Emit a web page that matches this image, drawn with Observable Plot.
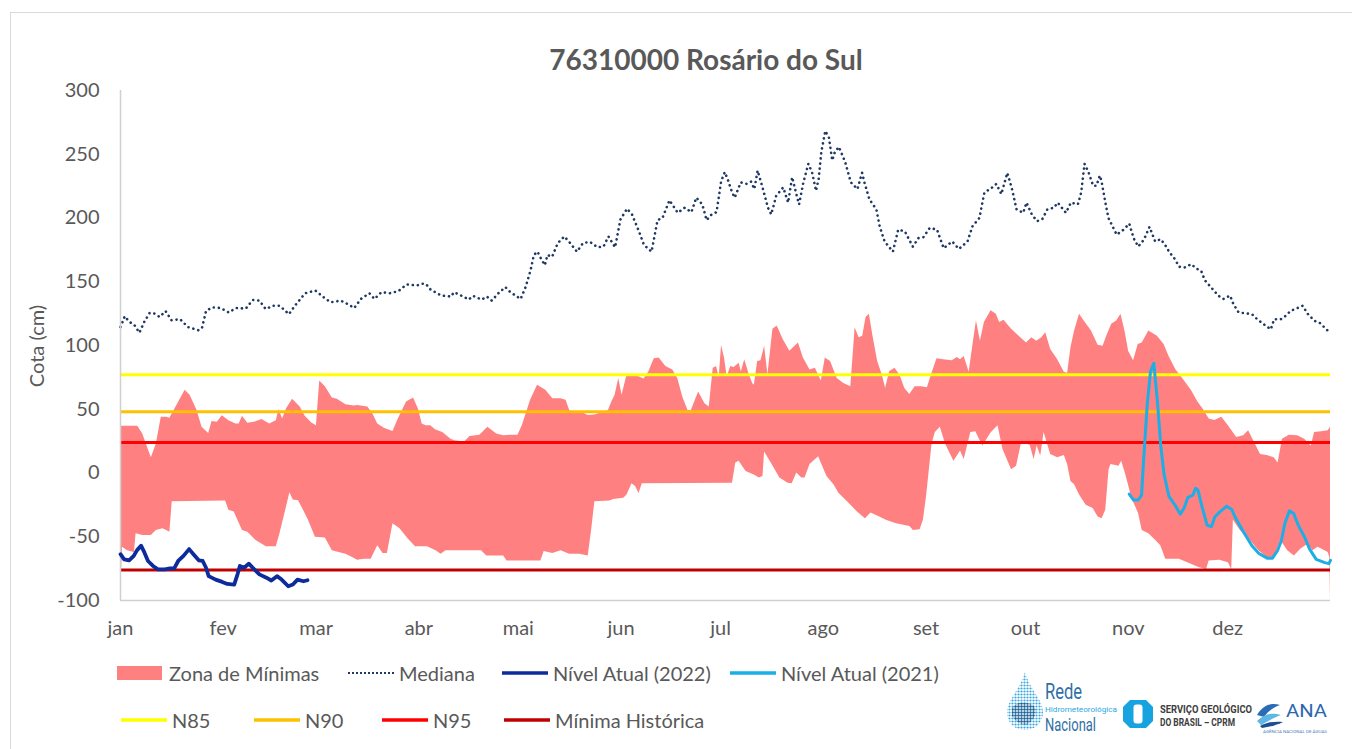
<!DOCTYPE html>
<html>
<head>
<meta charset="utf-8">
<script src="https://cdn.jsdelivr.net/npm/d3@7"></script>
<script src="https://cdn.jsdelivr.net/npm/@observablehq/plot@0.6"></script>
<style>
  html, body { margin: 0; padding: 0; background: #fff; }
  #wrap { position: relative; width: 1352px; height: 749px; overflow: hidden; background: #fff; font-family: Lato, "Open Sans", sans-serif; color: #595959; }
  #frame { position: absolute; left: 10px; top: 12px; width: 1400px; height: 800px; border: 1.5px solid #d9d9d9; box-sizing: border-box; }
  #title { position: absolute; left: 406px; width: 600px; top: 42px; text-align: center; font-weight: bold; font-size: 28px; line-height: 34px; color: #595959; }
  #ylabel { position: absolute; left: 36px; top: 346px; transform: translate(-50%, -50%) rotate(-90deg); font-size: 20px; white-space: nowrap; color: #595959; z-index: 2; }
  #chart { position: absolute; left: 0; top: 75px; z-index: 1; }
  .leg { position: absolute; display: flex; align-items: center; font-size: 20px; color: #595959; white-space: nowrap; height: 30px; }
  .leg svg { display: block; }
  #logos { position: absolute; left: 995px; top: 660px; }
</style>
</head>
<body>
<div id="wrap">
  <div id="frame"></div>
  <div id="title">76310000 Rosário do Sul</div>
  <div id="chart"></div>
  <div id="ylabel">Cota (cm)</div>
  <div id="legend"></div>
  <svg id="logos" width="357" height="89" viewBox="995 660 357 89">
    <defs>
      <pattern id="dots" x="0" y="0" width="3" height="3" patternUnits="userSpaceOnUse">
        <circle cx="1.5" cy="1.5" r="1.1" fill="#3aa6dc"></circle>
      </pattern>
      <pattern id="dots2" x="0" y="0" width="3" height="3" patternUnits="userSpaceOnUse">
        <circle cx="1.5" cy="1.5" r="1.2" fill="#1f5f8f"></circle>
      </pattern>
    </defs>
    <path d="M1025,672 C1020,690 1007,700 1007,712 C1007,723 1015,730 1025,730 C1035,730 1043,723 1043,712 C1043,700 1030,690 1025,672 Z" fill="url(#dots)"></path>
    <path d="M1012,708 C1018,700 1028,702 1034,706 C1038,712 1034,720 1028,724 C1022,726 1016,722 1012,716 Z" fill="url(#dots2)"></path>
    <text x="1045" y="699" font-family="Roboto, Lato, sans-serif" font-size="22" fill="#2f6fa5" textLength="37" lengthAdjust="spacingAndGlyphs">Rede</text>
    <text x="1045" y="711.5" font-family="Roboto, Lato, sans-serif" font-size="7.5" fill="#2aa9e0" textLength="72" lengthAdjust="spacingAndGlyphs">Hidrometeorológica</text>
    <text x="1045" y="731" font-family="Roboto, Lato, sans-serif" font-size="18" fill="#2f6fa5" textLength="51" lengthAdjust="spacingAndGlyphs">Nacional</text>
    <path d="M1130,700 L1146,700 L1153,707 L1153,721 L1146,728 L1130,728 L1123,721 L1123,707 Z" fill="#17a2e0"></path>
    <rect x="1133.5" y="704.5" width="9" height="19" rx="3" fill="#fff"></rect>
    <text x="1160" y="713" font-family="Roboto, Lato, sans-serif" font-weight="bold" font-size="10" fill="#3d3d3d" textLength="92" lengthAdjust="spacingAndGlyphs">SERVIÇO GEOLÓGICO</text>
    <text x="1160" y="726" font-family="Roboto, Lato, sans-serif" font-weight="bold" font-size="10" fill="#3d3d3d" textLength="75" lengthAdjust="spacingAndGlyphs">DO BRASIL – CPRM</text>
    <path d="M1257,715 C1263,706 1270,702 1280,705 C1274,707 1268,711 1264,717 Z" fill="#2a6db5"></path>
    <path d="M1257,721 C1264,714 1271,712 1281,715 C1275,717 1268,721 1261,725 Z" fill="#5fb7e5"></path>
    <path d="M1260,726 C1267,722 1275,721 1283,722 C1277,725 1270,727 1262,728 Z" fill="#1c4f91"></path>
    <text x="1286" y="717" font-family="Roboto, Lato, sans-serif" font-size="18" fill="#2b67ad" textLength="41" lengthAdjust="spacingAndGlyphs">ANA</text>
    <text x="1263" y="733" font-family="Roboto, Lato, sans-serif" font-size="3.5" fill="#4b7cb8" textLength="64" lengthAdjust="spacingAndGlyphs">AGÊNCIA NACIONAL DE ÁGUAS</text>
  </svg>
</div>
<script>
// ---- Data ----
const months = ["jan","fev","mar","abr","mai","jun","jul","ago","set","out","nov","dez"];
const monthStartDays = [0,31,59,90,120,151,181,212,243,273,304,334];
const yTicks = [-100,-50,0,50,100,150,200,250,300];

const medianDay = [0,1.3,2.6,4.2,5.7,7.2,8.8,10.3,11.8,13.6,15.4,18,20.3,23.6,24.6,25.8,27.6,30.2,32.7,34.8,37.8,39.9,41.9,43.8,46,48,50.8,52.6,55.7,58.8,61.3,63.4,66.4,68.5,70.5,72.5,75.1,76.6,78.7,81.2,83.8,86.3,89.4,91,92.1,93.6,96.7,99.7,100.6,103.8,105,106.4,108.9,110.5,112,114,116.1,117.6,120.7,122.2,123.7,124.7,125.8,126.8,128,128.8,130.2,131.9,133.9,135.5,137.7,139.5,141.6,143.9,145.7,147.2,149.2,150.8,152.8,154.3,156.4,157.9,160.2,162,163.5,165.6,168.1,170.2,172.2,173.7,175.5,176.8,178.3,179.8,181.2,182.3,183.2,184.5,185.3,187.1,188.7,190.2,191.2,192.2,193.8,195.3,196.3,197.8,199.9,201.4,202.6,204,204.7,206,207.5,208.6,209.8,210.6,211.4,212.6,213.7,214.7,215.5,216.7,218.6,220.3,222.3,223.7,224.4,225.9,228,229,230.5,233,234.6,236.6,239,240.7,242.2,244.1,246.3,248.3,250.9,252.9,255.5,257,259.1,260.6,262.6,264.2,265.7,267.5,268.8,270.3,272.3,273.3,274.9,276.5,278.1,279.6,281.6,282.7,284.2,285.2,286.7,288.8,289.8,290.8,292,293.4,294.4,295.4,295.9,296.9,298,299,300.5,302.6,304.3,305.6,307,308.7,310.4,312.1,313.8,315.3,316.3,317.9,319.4,321,323,324.5,326,327.1,329.1,331.1,332.7,334.7,335.7,337.3,339.8,341.3,342.9,344.9,347,348,350,351.5,353,355.1,356.6,358.2,360.2,361.7,364.3];
const medianCm = [114.5,123,118.7,116,110,118.7,125.6,125,122.4,127,119.8,120.6,114.5,111.9,114,127,129.9,129.4,125.9,129.4,129,135.7,135.2,128.6,131.2,131.2,124.6,131.2,141,143.1,137.8,133.9,135.2,132.5,129.4,136.5,141,136.5,141.8,141,142.6,147.9,147.1,148.4,148.4,143.7,139.2,138.4,141.8,137.8,136,138.9,136,138.4,135.2,141,145.8,141.8,136.5,145.8,159,171,173.6,168.3,163,171,169.6,180.3,185.5,180.8,173.6,180.3,181.3,177,177.6,185.5,177,198.8,207.3,202.8,189.5,178.9,173.6,198.3,200.1,213.9,204.1,208.1,204.6,216,210.7,198.3,202.8,204.6,229,236,230,220,216,228,226.7,228.5,222.7,237.2,222.7,208.1,202.8,217.4,224,212.1,232,217.4,210.7,228,242.5,235.9,221.3,230.6,251.8,268.3,263,245.2,251.8,255.8,243.9,228,222.7,235.4,228,214.7,206.8,193.5,181.6,173.6,190.9,189.5,177.6,184.2,185,192.2,190.9,176.3,181.6,175.7,181.6,193.5,200.1,220,223.2,226.7,218.7,235.4,224,206.8,204.1,212.1,202.8,197.5,199.3,206.8,208.1,212.1,207.3,204.1,212.1,210.7,220,242.5,235.9,225.3,225.3,233.3,229.3,214.7,200.1,194.8,186.9,190.9,195.6,184.2,177.6,182.9,193,181.6,183.4,178.1,173.6,168.3,161.7,161.2,163.8,160.4,158.5,151.1,145.3,139.2,136.5,139.2,132.5,125.9,125.1,124.6,120.6,116.6,112.7,120.6,120.6,123.3,127.2,129.4,131.2,124.6,119.3,117.9,111.3];

const zoneTopDay = [0,5.2,6.7,9.3,10.8,12.3,13.9,14.9,17,19.5,21,23.1,24.6,26.6,27.6,29.2,30.7,32.7,34.8,35.8,36.8,38.4,40.4,42.7,45,47,47.8,48.9,50.1,51.9,54.2,55.7,57.7,59.1,60.1,61.8,63.9,65.4,68,70.5,71.5,74.6,76.1,77.6,79.7,82.2,83.8,86.3,88.4,89.9,91,92.2,93.6,95,97.2,99.7,100.8,103.8,105.4,108.4,110.8,113.5,115.6,118.1,119.9,121.2,122.7,123.7,125.8,128.3,130.4,132.9,134.4,135.5,137,139,141.1,143.1,145.7,147.2,148.2,149.2,150.3,151.3,152.8,154.3,156.4,157.9,159.4,161,162.5,164.5,166.6,168.1,169.6,171.2,172.2,173.2,174.4,176.3,177.6,178.8,179.8,180.6,181.3,182.2,183,184.1,185.1,186.6,187.3,188.3,189.7,190.7,191.2,192.2,193.2,194.3,195.3,196.8,198.1,199.9,201.9,204.5,206,208,209.6,211.4,212.6,214.2,216.2,218.2,220.3,221.6,222.8,223.9,224.9,225.9,226.9,228.4,229.8,230.8,232,233.6,235.1,236.6,238.1,239.7,241.7,243.4,244.8,246.3,248.3,250.9,252.4,253.4,254.5,256,257.3,258.2,259.4,260.6,262.6,264.2,265.2,266.5,268.8,271.8,273.3,274.9,276.4,277.9,279.1,280.6,282.7,284.7,285.7,286.7,287.8,289.3,290.8,292.9,294.9,296.4,297.5,299,300.5,301.8,303.1,304.1,305.6,307,308.2,310.2,312.8,314.8,316.3,318.4,320.4,323,325,326.5,328.4,330.1,332.2,334.2,336.7,338.8,340.3,341.8,343.9,345.9,348,349.2,350.5,352.6,355.1,357.2,359.2,360.2,362.3,364.3,365];
const zoneTopCm = [36.6,36.6,30.5,11.9,22.5,43.7,43.7,43,53,65,61,49,35.8,31,40.3,39.8,45,41,38.4,38.4,44.5,39,39.8,41.9,38.4,41,49.8,42.4,50.4,57.8,51.7,44.5,39.2,37.1,72.1,67.6,58.8,57.8,53.5,52.5,53,51.7,46.4,38.4,35,32.6,42.4,55.7,58.8,50,38.4,37.1,37.1,33.9,31.8,26.5,25.2,24.4,28.6,29.7,35.8,30.5,29.2,29.7,29.7,37.1,49,57,68.9,64.9,58.3,58.3,57,49,46.4,47.7,45.1,45.5,47.7,49,55.7,61,74.2,61,76.9,76.9,75.5,73.7,79.5,89.6,90.1,83.5,80.8,74.2,59.6,49,49,55.7,63.6,54.3,51.7,82.2,83.5,74.7,100,90.1,75.5,83.5,82.7,86.1,79.5,88.8,76.9,70.2,68.9,87.5,88,99.4,76.9,112.7,115.3,104.7,95.4,102,90.1,80.8,82.2,72.1,90.1,87.5,74.2,70.2,67.6,114,106,107.3,121.9,124.6,108.7,87.5,76.9,66.3,79.5,82.2,76.9,66.3,61.5,67.6,67.6,66.8,78.2,89.6,88.8,88,90.6,88.8,91.4,79,103.4,119.3,103.4,118,127.2,124.6,118,119.8,112.7,105.5,102,106,103.4,106,110,96.8,88.8,79,78.2,98.1,111.3,124.6,118.8,111.3,100.2,99.4,107.3,116.6,119.3,124.6,110,95.4,88,100.7,102,111.3,107.3,100.7,91.4,80.8,74.2,65,55.7,50.4,42.4,41.1,43.7,37.1,27.8,29.2,33.1,25.2,14.6,13.8,11.9,7.9,26.5,29.7,29.2,26.5,21.2,31.8,32.3,33.1,35.8];

const zoneBottomDay = [0,0.6,2.1,4.2,4.7,6.7,9.3,10.8,12.8,13.9,14.9,15.6,31.7,32.7,34.3,36.8,38.4,40.9,44,47,48.1,49.6,51.1,52.1,53.7,55.2,56.7,58.8,61.8,63.9,65.9,68,70,71.5,73.6,75.6,77.6,79.2,80.5,82.2,84.3,86.8,89,92.6,95.2,96.7,98.2,108.9,110.5,115.6,116.6,126.8,127.8,130.4,132.9,135.5,138.5,141.1,142.1,143.1,147.7,148.7,151.8,152.8,154.3,155.4,156.4,157.4,184.6,185.6,186.6,188.7,191.2,192.7,193.8,194.3,196.3,198.9,201.4,202.6,204,205.5,206.5,208,210.6,213.1,215.2,216.7,219.3,222.3,224.7,226.4,229,231,234.1,238.1,239.2,241.2,242.2,243.2,244.8,245.8,247.3,248.9,251.4,253.4,254.5,256.5,258,260.1,262.6,264.7,266.2,268.8,270.3,271.8,274.4,275.6,276.5,277.6,278.6,280.6,282.7,284.7,285.7,286.7,287.8,289.3,291.3,293.4,294.9,296.1,297.2,298.2,298.8,301.2,302,303.1,305.1,307.1,308.2,310.2,312.3,313.8,315.3,319.4,323,325.5,327.6,328.4,331.6,334.2,335.2,335.7,337.8,340.8,343.4,345.9,348,350,352.1,354.1,356.1,358.2,359.7,361.2,362.3,364.3,364.8,365];
const zoneBottomCm = [-100,-58.3,-61,-62.3,-47.7,-49,-49,-45,-43.7,-45,-46.4,-22.6,-22,-29.2,-30.5,-45,-46.4,-53,-57.8,-57.8,-47.7,-31.8,-15.4,-21.2,-21.8,-29.2,-37.1,-50.4,-50.9,-61,-62.3,-63.7,-66.3,-68.5,-67.7,-67.7,-57,-63.1,-63.1,-39.8,-43.7,-51.7,-57.8,-57.8,-61,-63.7,-61,-61,-65,-65,-69,-69,-61.5,-63.1,-61,-63.7,-63.7,-65,-45,-22.6,-22,-20.7,-19.9,-17.3,-8.5,-10.6,-16,-8.5,-8,7.9,9.3,1.2,-1.5,-4,-2.7,16.4,7.9,-4,-8,-8.5,0,-4,-4,6.6,12.7,-2.7,-9.3,-15.9,-22.6,-30.5,-35.8,-31.3,-34.5,-37.1,-39.8,-41.9,-45.1,-44.5,-37.1,-17.3,22.5,31.8,35.8,22.5,9.3,17.2,10.6,31.8,32.3,21.2,31.3,37.1,18.5,2.6,5.3,23.7,21.7,10.6,21.2,13.3,31.8,14.6,11.9,13.8,6.6,-6.6,-9.3,-17.3,-25.2,-27.8,-34.5,-35.8,-29.2,2.6,6.6,5.3,9.3,0,-19.9,-31.8,-45.1,-47.7,-53,-57,-67.7,-67.7,-71.6,-74.3,-75.6,-69,-68.5,-70.3,-75.6,-37.1,-45.1,-53,-61,-66.3,-66.3,-53,-61,-65,-59.7,-55.8,-61,-58.3,-59.7,-62.3,-66.3,-100];

const level2022Day = [0,1.1,2.6,4,5,6.2,7.2,8.3,9.8,11.3,13.4,14.9,16.2,17.4,19,20.7,22,23.6,24.8,25.8,26.6,28.7,30.7,32.2,34.3,35.3,36,37.3,38.7,39.9,41.9,44,45.5,47.2,48.6,50.6,52,53.4,55.2,56.4];
const level2022Cm = [-63.7,-67.7,-68.5,-65,-60.5,-57,-62.3,-69,-72.9,-75.6,-75.6,-74.8,-74.8,-69,-65,-59.7,-63.7,-68.5,-69,-74.3,-80.9,-83.6,-85.4,-87,-87.5,-79.5,-72.9,-74.3,-71.1,-74.3,-79.5,-82.1,-84.3,-80.9,-83.6,-88.8,-87.5,-83.6,-84.9,-84.1];

const level2021Day = [304.3,305.6,307,308,308.7,309.7,310.7,311.7,312.8,313.8,314.8,316.3,317.9,319.7,320.9,322,323.5,324.3,325,326.3,327.8,329.1,330.1,331.6,333.7,335.2,336.2,338.8,341.3,343.4,345.9,347.5,349,350.2,351.2,352.6,353.9,355.3,357.2,358.7,360.7,363.3,364.5,365];
const level2021Cm = [-16.5,-21.2,-21.2,-17.3,13.3,53,79.5,86.1,55.7,21.2,-1.3,-18.6,-24.4,-32.3,-27,-19.1,-17.3,-12,-13.3,-27,-41.1,-41.9,-34.5,-30.5,-26,-28.6,-34.5,-46.4,-57,-63.1,-66.8,-66.8,-61,-53,-39.8,-29.7,-31.8,-41.1,-50.4,-59.7,-67.7,-70.3,-71.1,-68.5];

const thresholdNames = ["N85","N90","N95","Mínima Histórica"];
const thresholdCm = [77,48,24,-76];

// ---- Styles ----
const colors = {
  zone: "#ff8080",
  median: "#1f3864",
  n2022: "#0d2b9c",
  n2021: "#1caee6",
  "N85": "#ffff00",
  "N90": "#ffc000",
  "N95": "#ff0000",
  "Mínima Histórica": "#c00000",
  axis: "#d0d0d0"
};

// ---- Tables built from the arrays ----
const toRows = (days, vals) => days.map((d, i) => ({day: d, cm: vals[i]}));
const median = toRows(medianDay, medianCm);
const zoneTop = toRows(zoneTopDay, zoneTopCm);
const zoneBottom = toRows(zoneBottomDay, zoneBottomCm);
const lvl2022 = toRows(level2022Day, level2022Cm);
const lvl2021 = toRows(level2021Day, level2021Cm);
const thresholds = thresholdNames.map((n, i) => ({name: n, cm: thresholdCm[i]}));
const yMin = yTicks[0];

const chart = Plot.plot({
  width: 1352,
  height: 575,
  marginLeft: 120,
  marginRight: 22,
  marginTop: 15,
  marginBottom: 50,
  x: {domain: [0, 365]},
  y: {domain: [yTicks[0], yTicks[yTicks.length - 1]]},
  style: {fontFamily: "Lato, 'Open Sans', sans-serif", fontSize: "20px", color: "#595959", background: "transparent", overflow: "visible"},
  marks: [
    Plot.areaY(zoneTop, {x: "day", y1: yMin, y2: "cm", fill: colors.zone}),
    Plot.areaY(zoneBottom, {x: "day", y1: yMin, y2: "cm", fill: "white"}),
    Plot.ruleY(thresholds, {y: "cm", stroke: d => colors[d.name], strokeWidth: 3}),
    Plot.line(median, {x: "day", y: "cm", stroke: colors.median, strokeWidth: 2.6, strokeDasharray: "0.1 5", strokeLinecap: "round"}),
    Plot.ruleX([0], {stroke: colors.axis, strokeWidth: 1.5}),
    Plot.ruleY([yMin], {stroke: colors.axis, strokeWidth: 1.5}),
    Plot.line(lvl2022, {x: "day", y: "cm", stroke: colors.n2022, strokeWidth: 3.8, strokeLinejoin: "round", strokeLinecap: "round"}),
    Plot.line(lvl2021, {x: "day", y: "cm", stroke: colors.n2021, strokeWidth: 3, strokeLinejoin: "round", strokeLinecap: "round"}),
    Plot.axisY({ticks: yTicks, tickSize: 0, tickPadding: 21, tickFormat: d => String(d), label: null, fontSize: 20}),
    Plot.axisX({ticks: monthStartDays, tickFormat: d => months[monthStartDays.indexOf(d)], tickSize: 0, tickPadding: 20, label: null, fontSize: 20})
  ]
});
document.getElementById("chart").appendChild(chart);

// ---- Legend ----
const legendItems = [
  {label: "Zona de Mínimas", kind: "rect", color: colors.zone, x: 117, y: 673},
  {label: "Mediana", kind: "dot", color: colors.median, x: 347, y: 673},
  {label: "Nível Atual (2022)", kind: "line", color: colors.n2022, x: 501, y: 673},
  {label: "Nível Atual (2021)", kind: "line", color: colors.n2021, x: 729, y: 673},
  {label: "N85", kind: "line", color: colors["N85"], x: 120, y: 720},
  {label: "N90", kind: "line", color: colors["N90"], x: 253, y: 720},
  {label: "N95", kind: "line", color: colors["N95"], x: 381, y: 720},
  {label: "Mínima Histórica", kind: "line", color: colors["Mínima Histórica"], x: 503, y: 720}
];
const legend = document.getElementById("legend");
for (const it of legendItems) {
  const div = document.createElement("div");
  div.className = "leg";
  div.style.left = it.x + "px";
  div.style.top = (it.y - 15) + "px";
  const ns = "http://www.w3.org/2000/svg";
  const s = document.createElementNS(ns, "svg");
  s.setAttribute("width", 48); s.setAttribute("height", 30);
  let el;
  if (it.kind === "rect") {
    el = document.createElementNS(ns, "rect");
    el.setAttribute("x", 0); el.setAttribute("y", 8); el.setAttribute("width", 45); el.setAttribute("height", 14);
    el.setAttribute("fill", it.color);
  } else {
    el = document.createElementNS(ns, "line");
    el.setAttribute("x1", 1); el.setAttribute("x2", 47); el.setAttribute("y1", 15); el.setAttribute("y2", 15);
    el.setAttribute("stroke", it.color);
    el.setAttribute("stroke-width", it.kind === "dot" ? 2 : 3.5);
    if (it.kind === "dot") { el.setAttribute("stroke-dasharray", "2 2"); }
  }
  s.appendChild(el);
  div.appendChild(s);
  const t = document.createElement("span");
  t.textContent = it.label;
  t.style.marginLeft = "4px";
  div.appendChild(t);
  legend.appendChild(div);
}
</script>
</body>
</html>
